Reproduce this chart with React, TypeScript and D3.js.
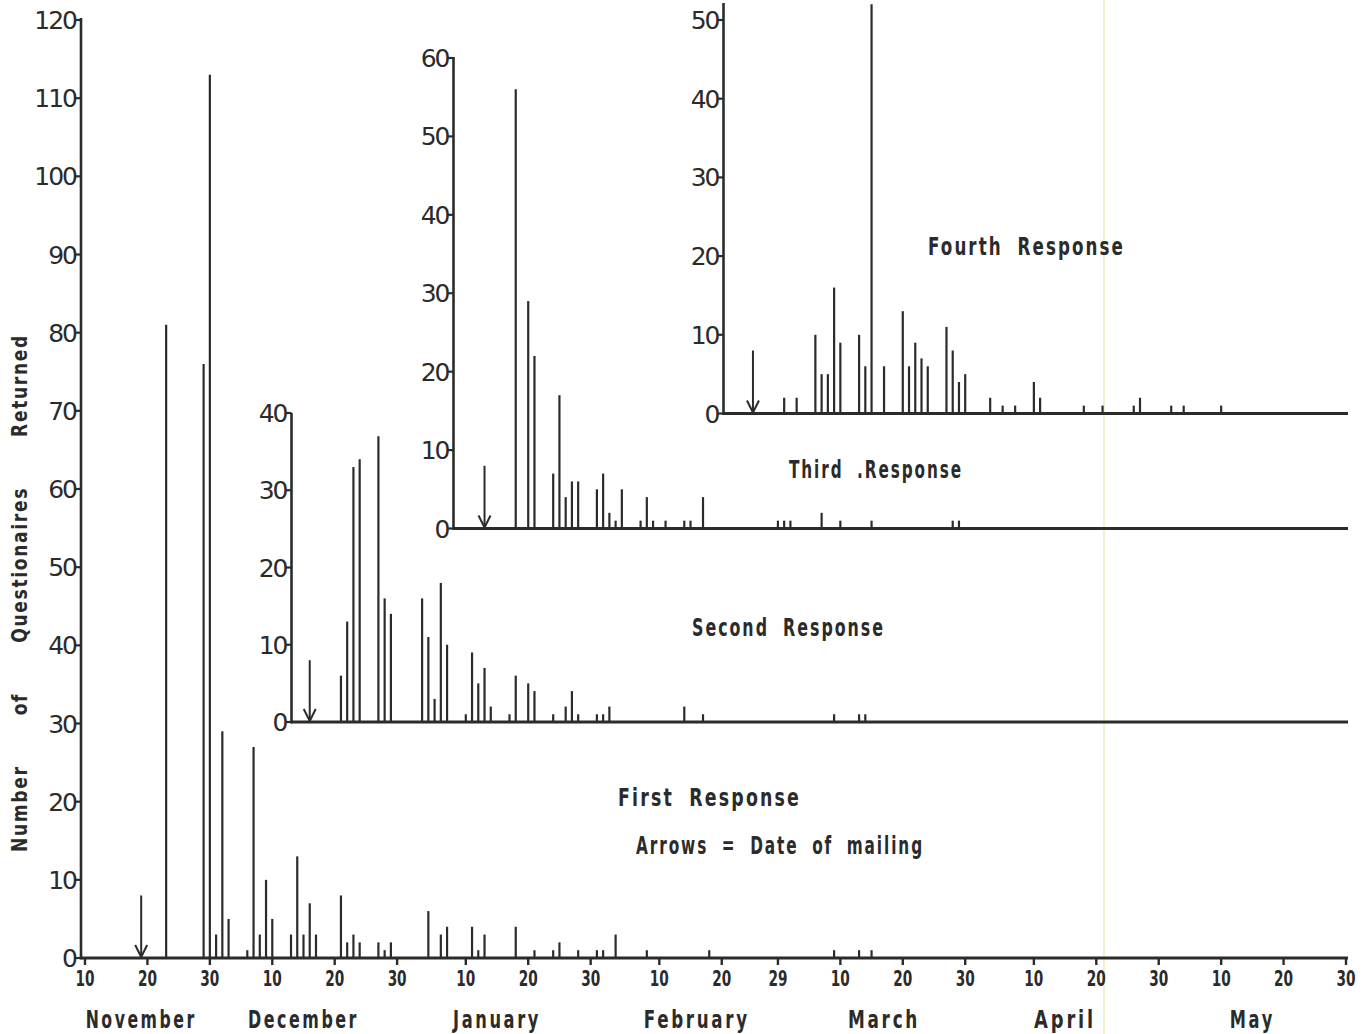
import React from 'react';
import * as d3 from 'd3';

// ---- data -------------------------------------------------------------
const firstDates = ["1967-11-23","1967-11-29","1967-11-30","1967-12-01","1967-12-02","1967-12-03","1967-12-06","1967-12-07","1967-12-08","1967-12-09","1967-12-10","1967-12-13","1967-12-14","1967-12-15","1967-12-16","1967-12-17","1967-12-21","1967-12-22","1967-12-23","1967-12-24","1967-12-27","1967-12-28","1967-12-29","1968-01-04","1968-01-06","1968-01-07","1968-01-11","1968-01-12","1968-01-13","1968-01-18","1968-01-21","1968-01-24","1968-01-25","1968-01-28","1968-01-31","1968-02-01","1968-02-03","1968-02-08","1968-02-18","1968-03-09","1968-03-13","1968-03-15"];
const firstCounts = [81,76,113,3,29,5,1,27,3,10,5,3,13,3,7,3,8,2,3,2,2,1,2,6,3,4,4,1,3,4,1,1,2,1,1,1,3,1,1,1,1,1];

const secondDates = ["1967-12-21","1967-12-22","1967-12-23","1967-12-24","1967-12-27","1967-12-28","1967-12-29","1968-01-03","1968-01-04","1968-01-05","1968-01-06","1968-01-07","1968-01-10","1968-01-11","1968-01-12","1968-01-13","1968-01-14","1968-01-17","1968-01-18","1968-01-20","1968-01-21","1968-01-24","1968-01-26","1968-01-27","1968-01-28","1968-01-31","1968-02-01","1968-02-02","1968-02-14","1968-02-17","1968-03-09","1968-03-13","1968-03-14"];
const secondCounts = [6,13,33,34,37,16,14,16,11,3,18,10,1,9,5,7,2,1,6,5,4,1,2,4,1,1,1,2,2,1,1,1,1];

const thirdDates = ["1968-01-18","1968-01-20","1968-01-21","1968-01-24","1968-01-25","1968-01-26","1968-01-27","1968-01-28","1968-01-31","1968-02-01","1968-02-02","1968-02-03","1968-02-04","1968-02-07","1968-02-08","1968-02-09","1968-02-11","1968-02-14","1968-02-15","1968-02-17","1968-02-29","1968-03-01","1968-03-02","1968-03-07","1968-03-10","1968-03-15","1968-03-28","1968-03-29"];
const thirdCounts = [56,29,22,7,17,4,6,6,5,7,2,1,5,1,4,1,1,1,1,4,1,1,1,2,1,1,1,1];

const fourthDates = ["1968-03-01","1968-03-03","1968-03-06","1968-03-07","1968-03-08","1968-03-09","1968-03-10","1968-03-13","1968-03-14","1968-03-15","1968-03-17","1968-03-20","1968-03-21","1968-03-22","1968-03-23","1968-03-24","1968-03-27","1968-03-28","1968-03-29","1968-03-30","1968-04-03","1968-04-05","1968-04-07","1968-04-10","1968-04-11","1968-04-18","1968-04-21","1968-04-26","1968-04-27","1968-05-02","1968-05-04","1968-05-10"];
const fourthCounts = [2,2,10,5,5,16,9,10,6,52,6,13,6,9,7,6,11,8,4,5,2,1,1,4,2,1,1,1,2,1,1,1];

// dates of mailing (arrows), drawn 8 units tall
const mailingDates = ["1967-11-19","1967-12-16","1968-01-13","1968-02-25"];
const arrowUnits = 8;

const dateDomain = ["1967-11-10","1968-05-30"];
const dateTicks = ["1967-11-10","1967-11-20","1967-11-30","1967-12-10","1967-12-20","1967-12-30","1968-01-10","1968-01-20","1968-01-30","1968-02-10","1968-02-20","1968-02-29","1968-03-10","1968-03-20","1968-03-30","1968-04-10","1968-04-20","1968-04-30","1968-05-10","1968-05-20","1968-05-30"];
const monthNames = ["November","December","January","February","March","April","May"];
const monthAnchors = ["1967-11-19","1967-12-15","1968-01-15","1968-02-16","1968-03-17","1968-04-15","1968-05-15"];

const firstTicks = [0,10,20,30,40,50,60,70,80,90,100,110,120];
const secondTicks = [0,10,20,30,40];
const thirdTicks = [0,10,20,30,40,50,60];
const fourthTicks = [0,10,20,30,40,50];

// ---- layout -----------------------------------------------------------
const W = 1365, H = 1034;
const INK = '#2b2b2b';
const parse = d3.utcParse('%Y-%m-%d');
const x = d3.scaleUtc().domain(dateDomain.map(parse)).range([85, 1346]);
const xEnd = 1348;

const NUM_FONT = "'DejaVu Sans', sans-serif";
const BOLD_FONT = "'DejaVu Sans', sans-serif";

// printed widths of the month names
const monthWidths = [111, 111, 88, 106, 72, 62, 45];

const panels = [
  { dates: firstDates, counts: firstCounts, ticks: firstTicks, axisX: 81, base: 958, top: 20, axisTop: 18, max: 120, mail: mailingDates[0] },
  { dates: secondDates, counts: secondCounts, ticks: secondTicks, axisX: 291.5, base: 722, top: 413, axisTop: 413, max: 40, mail: mailingDates[1] },
  { dates: thirdDates, counts: thirdCounts, ticks: thirdTicks, axisX: 453.5, base: 528.5, top: 58, axisTop: 57, max: 60, mail: mailingDates[2] },
  { dates: fourthDates, counts: fourthCounts, ticks: fourthTicks, axisX: 723.5, base: 413.5, top: 20, axisTop: 3, max: 50, mail: mailingDates[3] },
];

const labels = [
  { text: 'Fourth Response', x: 928, y: 255, w: 197 },
  { text: 'Third .Response', x: 789, y: 478, w: 174 },
  { text: 'Second Response', x: 692, y: 636, w: 193 },
  { text: 'First Response', x: 618, y: 806, w: 183 },
  { text: 'Arrows = Date of mailing', x: 636, y: 854, w: 288 },
];

function Panel({ p }: { p: any }) {
  const y = d3.scaleLinear().domain([0, p.max]).range([p.base, p.top]);
  const mx = x(parse(p.mail)!);
  const ay = y(arrowUnits);
  return (
    <g>
      {/* bars */}
      {p.dates.map((d: string, i: number) => {
        const bx = x(parse(d)!);
        return <line key={d} x1={bx} x2={bx} y1={p.base} y2={y(p.counts[i])} stroke={INK} strokeWidth={2.2} />;
      })}
      {/* mailing arrow */}
      <g stroke={INK} strokeWidth={2} fill="none">
        <line x1={mx} x2={mx} y1={ay} y2={p.base - 1} />
        <polyline points={`${mx - 6},${p.base - 13} ${mx},${p.base - 1} ${mx + 6},${p.base - 13}`} />
      </g>
      {/* baseline and vertical axis */}
      <line x1={p.axisX} x2={xEnd} y1={p.base} y2={p.base} stroke={INK} strokeWidth={3} />
      <line x1={p.axisX} x2={p.axisX} y1={p.axisTop} y2={p.base + 1.5} stroke={INK} strokeWidth={2.6} />
      {p.ticks.map((t: number) => (
        <g key={t}>
          <line x1={p.axisX - 6} x2={p.axisX} y1={y(t)} y2={y(t)} stroke={INK} strokeWidth={2.2} />
          <text x={p.axisX - 5} y={y(t)} dy="0.36em" textAnchor="end" fontFamily={NUM_FONT} fontSize={25} letterSpacing={-2} fill={INK}>{t}</text>
        </g>
      ))}
    </g>
  );
}

export default function App() {
  const base = panels[0].base;
  return (
    <svg width={W} height={H} viewBox={`0 0 ${W} ${H}`} style={{ position: 'absolute', left: 0, top: 0, background: '#fff' }}>
      <rect width={W} height={H} fill="#fff" />
      <line x1={1104} x2={1104} y1={0} y2={H} stroke="#f4efcf" strokeWidth={2} />
      {panels.map((p, i) => <Panel key={i} p={p} />)}
      {/* date axis */}
      {dateTicks.map((t) => {
        const tx = x(parse(t)!);
        return (
          <g key={t}>
            <line x1={tx} x2={tx} y1={base} y2={base + 7} stroke={INK} strokeWidth={2.4} />
            <text x={tx - 9.5} y={986} textLength={19} lengthAdjust="spacingAndGlyphs" fontFamily={BOLD_FONT} fontWeight="bold" fontSize={21} fill={INK}>{d3.utcFormat('%-d')(parse(t)!)}</text>
          </g>
        );
      })}
      {monthNames.map((m, i) => (
        <text key={m} x={x(parse(monthAnchors[i])!) - monthWidths[i] / 2} y={1028} textLength={monthWidths[i]} lengthAdjust="spacingAndGlyphs" fontFamily={BOLD_FONT} fontWeight="bold" fontSize={25} letterSpacing={4} fill={INK}>{m}</text>
      ))}
      {/* panel labels */}
      {labels.map((l) => (
        <text key={l.text} x={l.x} y={l.y} textLength={l.w} lengthAdjust="spacingAndGlyphs" fontFamily={BOLD_FONT} fontWeight="bold" fontSize={24} letterSpacing={3} wordSpacing={10} fill={INK}>{l.text}</text>
      ))}
      {/* vertical title */}
      <text transform="translate(27,852) rotate(-90)" textLength={518} lengthAdjust="spacingAndGlyphs" fontFamily={BOLD_FONT} fontWeight="bold" fontSize={21} letterSpacing={2} fill={INK} wordSpacing={52}>Number of Questionaires Returned</text>
    </svg>
  );
}
